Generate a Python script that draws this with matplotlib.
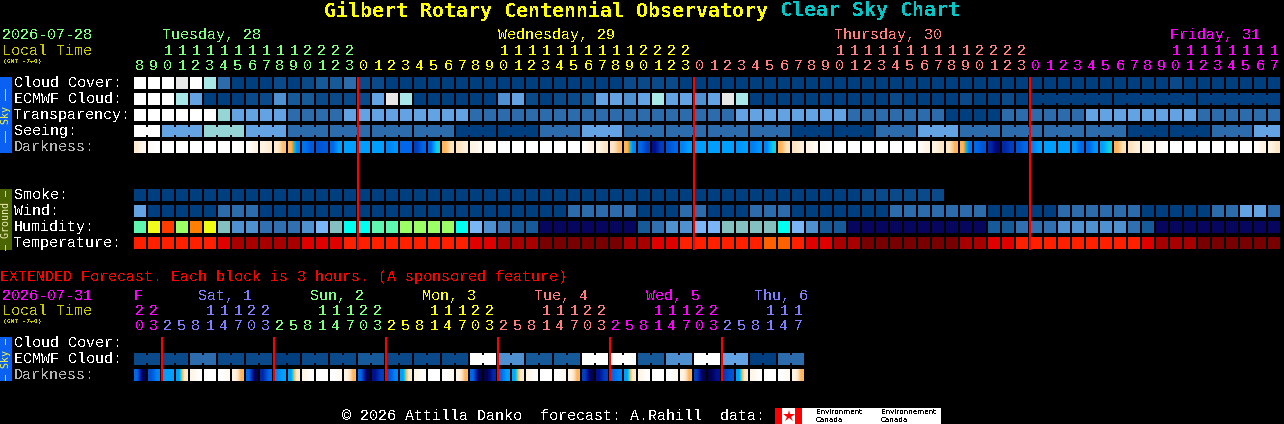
import matplotlib
matplotlib.use("Agg")
import matplotlib.pyplot as plt
from matplotlib.colors import LinearSegmentedColormap
from matplotlib.patches import Rectangle

plt.rcParams['font.family'] = ['Liberation Mono', 'DejaVu Sans Mono']
plt.rcParams['text.antialiased'] = False

# cloud style levels, 0 is clear (dark), 9 is overcast (white), 10 is teal
BLUES = ['#003f7f', '#0b4a8a', '#175a9a', '#2c6cac', '#4e90d0',
         '#63a3e3', '#7ab5f5', '#a8e8e8', '#e8e8e8', '#ffffff', '#95d5d5']

hours = [8, 9, 10, 11, 12, 13, 14, 15, 16, 17, 18, 19, 20, 21, 22, 23,
         0, 1, 2, 3, 4, 5, 6, 7, 8, 9, 10, 11, 12, 13, 14, 15, 16, 17, 18, 19, 20, 21, 22, 23,
         0, 1, 2, 3, 4, 5, 6, 7, 8, 9, 10, 11, 12, 13, 14, 15, 16, 17, 18, 19, 20, 21, 22, 23,
         0, 1, 2, 3, 4, 5, 6, 7, 8, 9, 10, 11, 12, 13, 14, 15, 16, 17]
hour_colors = ['#7fff7f'] * 16 + ['#ffff00'] * 24 + ['#ff7f7f'] * 24 + ['#ff00ff'] * 18

days = ['Tuesday, 28', 'Wednesday, 29', 'Thursday, 30', 'Friday, 31']
day_cols = [2, 26, 50, 74]
day_colors = ['#7fff7f', '#ffff00', '#ff7f7f', '#ff00ff']

cloud_cover = [9, 9, 9, 8, 9, 7, 3, 0, 0, 0, 1, 0, 1, 2, 2, 3, 1, 1, 0, 0, 0,
               0, 0, 0, 0, 0, 0, 0, 0, 0, 0, 0, 0, 0, 0, 1, 1, 1, 1, 0, 0,
               0, 0, 0, 0, 0, 0, 0, 0, 0, 0, 0, 0, 0, 0, 0, 0, 0, 0, 0, 0,
               0, 0, 0, 0, 0, 0, 0, 0, 0, 0, 0, 0, 0, 1, 0, 0, 0, 0, 0, 0, 0]
# one value per block up to column 63, then the three long blocks
ecmwf_cloud = [9, 9, 9, 7, 5, 0, 0, 0, 1, 1, 4, 2, 2, 1, 1, 1, 1, 5, 8, 7, 0,
               0, 0, 0, 0, 0, 4, 5, 1, 0, 1, 1, 2, 5, 5, 4, 5, 7, 5, 5, 4,
               5, 8, 7, 0, 0, 0, 0, 0, 0, 0, 0, 0, 0, 1, 0, 0, 0, 0, 1, 0,
               0, 1, 0, 0, 0, 0]
ecmwf_groups = [1] * 64 + [6, 6, 6]
transparency = [9, 9, 9, 9, 9, 9, 10, 5, 5, 5, 5, 3, 3, 3, 3, 5, 5, 5, 5, 5, 5,
                5, 5, 5, 3, 3, 3, 3, 3, 3, 3, 3, 3, 3, 3, 3, 3, 3, 3, 3, 3,
                3, 3, 5, 5, 5, 5, 5, 5, 5, 5, 3, 3, 3, 3, 3, 3, 3, 0, 0, 0,
                0, 3, 3, 3, 3, 3, 3, 5, 5, 5, 5, 5, 5, 5, 5, 3, 3, 3, 3, 3, 3]
seeing = [9, 5, 10, 5, 3, 3, 3, 3, 0, 0, 3, 5, 3, 3, 3, 3, 0, 0, 3, 5, 3, 3, 3, 3, 0, 0, 3, 5]
seeing_groups = [2] + [3] * 26 + [2]
smoke = [0] * 52 + [1] * 6
wind = [5, 0, 0, 0, 0, 0, 3, 3, 3, 0, 0, 0, 0, 0, 0, 0, 0, 0, 0, 0, 0,
        0, 0, 0, 0, 0, 0, 0, 0, 0, 0, 3, 3, 3, 3, 3, 0, 0, 0, 3, 3,
        0, 0, 0, 3, 3, 3, 0, 0, 0, 0, 0, 0, 0, 3, 3, 3, 3, 3, 3, 3,
        0, 0, 0, 0, 0, 3, 3, 3, 3, 3, 3, 0, 0, 0, 0, 0, 3, 3, 5, 5, 3]
humidity = ['#5ff7af', '#f0fc1c', '#ff3c00', '#9cff66', '#ff8000', '#eeff14', '#85c0c0',
            '#4e90d0', '#4e90d0', '#3070b0', '#3070b0', '#3070b0', '#4e90d0', '#7ab5f5',
            '#85c0c0', '#00ffee', '#00ffee', '#5ff7af', '#5ff7af', '#9cff66', '#9cff66',
            '#9cff66', '#9cff66', '#00ffee', '#7ab5f5', '#4e90d0', '#3070b0', '#175a9a',
            '#175a9a', '#06065f', '#06065f', '#06065f', '#06065f', '#06065f', '#06065f',
            '#06065f', '#175a9a', '#3070b0', '#4e90d0', '#4e90d0', '#7ab5f5', '#7ab5f5',
            '#85c0c0', '#85c0c0', '#85c0c0', '#85c0c0', '#00ffee', '#7ab5f5', '#4e90d0',
            '#175a9a', '#175a9a', '#06065f', '#06065f', '#06065f', '#06065f', '#06065f',
            '#06065f', '#06065f', '#06065f', '#06065f', '#06065f', '#175a9a', '#175a9a',
            '#3070b0', '#3070b0', '#3070b0', '#4e90d0', '#4e90d0', '#4e90d0', '#4e90d0',
            '#4e90d0', '#3070b0', '#175a9a', '#06065f', '#06065f', '#06065f', '#06065f',
            '#06065f', '#06065f', '#06065f', '#06065f', '#06065f']
temperature = ['#ff2000'] * 6 + ['#e00000'] + ['#a80000'] * 5 + ['#e00000'] * 3 + ['#ff2000'] * 9 \
    + ['#e00000'] * 2 + ['#a80000'] * 3 + ['#780000'] * 6 + ['#a80000'] * 2 + ['#e00000'] * 2 \
    + ['#ff2000'] * 6 + ['#ff6000'] * 2 + ['#ff2000'] + ['#e00000'] * 2 + ['#a80000'] * 2 \
    + ['#780000'] * 7 + ['#a80000'] * 2 + ['#e00000'] * 2 + ['#ff2000'] * 9 + ['#e00000'] \
    + ['#a80000'] * 3 + ['#780000'] * 6

# darkness per block, value at the left and at the right edge
dark_left = [1.5, 0.3, 0, 0, 0, 0, 0, 0, 0.2, 1, 1.5, 3, 5.8, 6.5, 6, 5, 5, 5, 5.5, 6, 7, 6, 3, 2,
             1, 0.5, 0, 0, 0, 0, 0, 0, 0.2, 1, 1.8, 3, 6, 8, 6.5, 5.5, 5, 5, 5, 5.2, 5.6, 5.5, 3, 2,
             1, 0.3, 0, 0, 0, 0, 0, 0, 0.3, 1, 1.8, 3, 6, 7.5, 7.5, 6.5, 5.5, 5, 5, 5.2, 6, 5, 3, 2,
             1, 0.5, 0, 0, 0, 0, 0, 0, 0.3, 1]
dark_right = [0.5, 0, 0, 0, 0, 0, 0, 0.2, 1, 1.5, 2.8, 5.5, 6.3, 6.3, 5, 5, 5, 5, 5.2, 6, 6, 4, 2, 1.2,
              0.5, 0.2, 0, 0, 0, 0, 0, 0, 1, 1.8, 2.8, 5.5, 7, 7, 6, 5, 5, 5, 5, 5, 5.2, 4, 2, 1.3,
              0.4, 0.1, 0, 0, 0, 0, 0, 0, 1, 1.8, 3, 5.7, 6.5, 8.5, 7, 6, 5, 5, 5, 6, 5.2, 4, 2, 1.2,
              0.5, 0.1, 0, 0, 0, 0, 0, 0, 1, 1.8]

ext_hours = [20, 23, 2, 5, 8, 11, 14, 17, 20, 23, 2, 5, 8, 11, 14, 17, 20, 23, 2, 5, 8, 11, 14, 17,
             20, 23, 2, 5, 8, 11, 14, 17, 20, 23, 2, 5, 8, 11, 14, 17, 20, 23, 2, 5, 8, 11, 14, 17]
ext_hour_colors = ['#ff00ff'] * 2 + ['#7f7fff'] * 8 + ['#7fff7f'] * 8 + ['#ffff00'] * 8 \
    + ['#ff7f7f'] * 8 + ['#ff00ff'] * 8 + ['#7f7fff'] * 6
ext_days = ['F', 'Sat, 1', 'Sun, 2', 'Mon, 3', 'Tue, 4', 'Wed, 5', 'Thu, 6']
ext_day_x = [134, 198, 310, 422, 534, 646, 754]
ext_day_colors = ['#ff00ff', '#7f7fff', '#7fff7f', '#ffff00', '#ff7f7f', '#ff00ff', '#7f7fff']
ext_cloud = [1, 1, 3, 1, 1, 0, 1, 1, 2, 1, 1, 1, 9, 4, 2, 2, 9, 9, 2, 4, 9, 5, 0, 3]
ext_dark_left = [6, 6.5, 5, 5, 0.8, 0, 0, 1, 6, 7.5, 5.5, 5, 0.8, 0, 0, 1, 6, 8, 6.5, 5, 0.8, 0, 0, 1,
                 6, 9, 6, 4.8, 0.8, 0, 0, 1, 7, 8, 6, 5, 0.8, 0, 0, 1, 7, 9, 7, 5, 0.8, 0, 0, 1]
ext_dark_right = [9, 5.5, 5, 1.5, 0.1, 0, 0.5, 3, 9, 6, 5, 1.5, 0.1, 0, 0.5, 3, 9, 7, 5.5, 1.5, 0.1, 0, 0.5, 3,
                  9, 7.5, 5, 1.5, 0.1, 0, 0.5, 3, 9, 7, 5.5, 1.5, 0.1, 0, 0.5, 3, 9, 8, 6.5, 1.5, 0.1, 0, 0.5, 3]

dark_cmap = LinearSegmentedColormap.from_list('dark', [
    (0 / 9, '#ffffff'), (1 / 9, '#fff4e4'), (2 / 9, '#fde3c0'), (3 / 9, '#ffb45a'),
    (3.6 / 9, '#ff9e1e'), (4 / 9, '#10d0e0'), (5 / 9, '#00a0ff'), (6 / 9, '#0068e8'),
    (7 / 9, '#0040c0'), (8 / 9, '#001090'), (9 / 9, '#000050')])

GRID_X = 134
PITCH = 14
CELL = 12

fig = plt.figure(figsize=(12.84, 4.24), dpi=100, facecolor='black')
ax = fig.add_axes([0, 0, 1, 1])
ax.set_facecolor('black')


def box(x, y, w, h, color, zorder=2):
    ax.add_patch(Rectangle((x, y), w, h, facecolor=color, edgecolor='none',
                           antialiased=False, zorder=zorder))


def draw_row(y, colors):
    for i, c in enumerate(colors):
        box(GRID_X + i * PITCH, y, CELL, CELL, c)


def draw_groups(y, values, groups):
    # blocks that belong together are joined by a short bridge
    col = 0
    for v, n in zip(values, groups):
        for k in range(n):
            box(GRID_X + col * PITCH, y, CELL, CELL, BLUES[v])
            if k < n - 1:
                box(GRID_X + col * PITCH + CELL, y + 2, 2, 8, BLUES[v])
            col += 1


def draw_dark(y, left, right):
    for i, (a, b) in enumerate(zip(left, right)):
        x = GRID_X + i * PITCH
        ax.imshow([[a, b]], cmap=dark_cmap, vmin=0, vmax=9, aspect='auto',
                  interpolation='bilinear', extent=(x, x + CELL, y + CELL, y), zorder=2)


def label(x, y, s, color='white', size=10.8, **kw):
    ax.text(x, y, s, color=color, fontsize=size, va='center', **kw)


def draw_hours(hrs, cols, y_tens, y_ones):
    for i, (h, c) in enumerate(zip(hrs, cols)):
        x = GRID_X + i * PITCH + 6
        if h >= 10:
            label(x, y_tens, str(h // 10), c, ha='center')
        label(x, y_ones, str(h % 10), c, ha='center')


def side_band(y, h, color, text, text_color):
    box(0, y, 12, h, color)
    ax.text(6, y + h / 2, text, color=text_color, fontsize=7.2, rotation=90,
            ha='center', va='center', family='DejaVu Sans Mono', antialiased=True)


# title
label(324, 11, 'Gilbert Rotary Centennial Observatory', '#ffff00', 14.4,
      fontweight='bold', family='DejaVu Sans Mono')
label(780, 11, 'Clear Sky Chart', '#00c8c8', 14.4, fontweight='bold', family='DejaVu Sans Mono')

# main header
label(2, 35, '2026-07-28', '#7fff7f')
label(2, 51, 'Local Time', '#c8c800')
ax.text(3, 62, '(GMT -7+0)', color='#c8c800', fontsize=4.6, va='center',
        fontweight='bold', family='DejaVu Sans Mono')
for name, col, c in zip(days, day_cols, day_colors):
    label(GRID_X + col * PITCH, 35, name, c)
draw_hours(hours, hour_colors, 51, 66)

# main rows
for y, s, c in [(83, 'Cloud Cover:', 'white'), (99, 'ECMWF Cloud:', 'white'),
                (115, 'Transparency:', 'white'), (131, 'Seeing:', 'white'),
                (147, 'Darkness:', '#b4b4b4'), (195, 'Smoke:', 'white'),
                (211, 'Wind:', 'white'), (227, 'Humidity:', 'white'),
                (243, 'Temperature:', 'white')]:
    label(14, y, s, c)

draw_row(77, [BLUES[v] for v in cloud_cover])
draw_groups(93, ecmwf_cloud, ecmwf_groups)
draw_row(109, [BLUES[v] for v in transparency])
draw_groups(125, seeing, seeing_groups)
draw_dark(141, dark_left, dark_right)
draw_row(189, [BLUES[v] for v in smoke])
draw_row(205, [BLUES[v] for v in wind])
draw_row(221, humidity)
draw_row(237, temperature)

for i, h in enumerate(hours):
    if h == 0:
        box(GRID_X + i * PITCH - 1, 77, 2, 173, '#ff0000', zorder=3)

side_band(77, 76, '#0a60f0', '\u2013\u2013 Sky \u2013\u2013', '#ffff40')
side_band(189, 61, '#4a6400', '\u2013 Ground \u2013', '#f0f0c0')

# extended forecast
label(0, 277, 'EXTENDED Forecast. Each block is 3 hours. (A sponsored feature)', '#ff0000')
label(2, 296, '2026-07-31', '#ff00ff')
label(2, 311, 'Local Time', '#c8c800')
ax.text(3, 322, '(GMT -7+0)', color='#c8c800', fontsize=4.6, va='center',
        fontweight='bold', family='DejaVu Sans Mono')
for name, x, c in zip(ext_days, ext_day_x, ext_day_colors):
    label(x, 296, name, c)
draw_hours(ext_hours, ext_hour_colors, 311, 326)

for y, s, c in [(343, 'Cloud Cover:', 'white'), (359, 'ECMWF Cloud:', 'white'),
                (375, 'Darkness:', '#b4b4b4')]:
    label(14, y, s, c)
draw_groups(353, ext_cloud, [2] * len(ext_cloud))
draw_dark(369, ext_dark_left, ext_dark_right)
for i, h in enumerate(ext_hours):
    if h == 2:
        box(GRID_X + i * PITCH - 1, 337, 2, 44, '#ff0000', zorder=3)

side_band(337, 44, '#0a60f0', '\u2013 Sky \u2013', '#ffff40')

# footer
label(342, 416, '\u00a9 2026 Attilla Danko  forecast: A.Rahill  data:')
box(775, 408, 166, 16, 'white')
box(775, 408, 7, 16, '#ff0000', zorder=3)
box(795, 408, 7, 16, '#ff0000', zorder=3)
ax.plot([788.5], [416], marker='*', color='#ff0000', markersize=9, mew=0, zorder=3)
for x, a in [(816, 'Environment'), (881, 'Environnement')]:
    ax.text(x, 412, a, color='black', fontsize=5.2, va='center', family='DejaVu Sans', zorder=3)
    ax.text(x, 420, 'Canada', color='black', fontsize=5.2, va='center', family='DejaVu Sans', zorder=3)

ax.set_xlim(0, 1284)
ax.set_ylim(424, 0)
ax.axis('off')
fig.savefig('out.png', dpi=100, facecolor='black')
